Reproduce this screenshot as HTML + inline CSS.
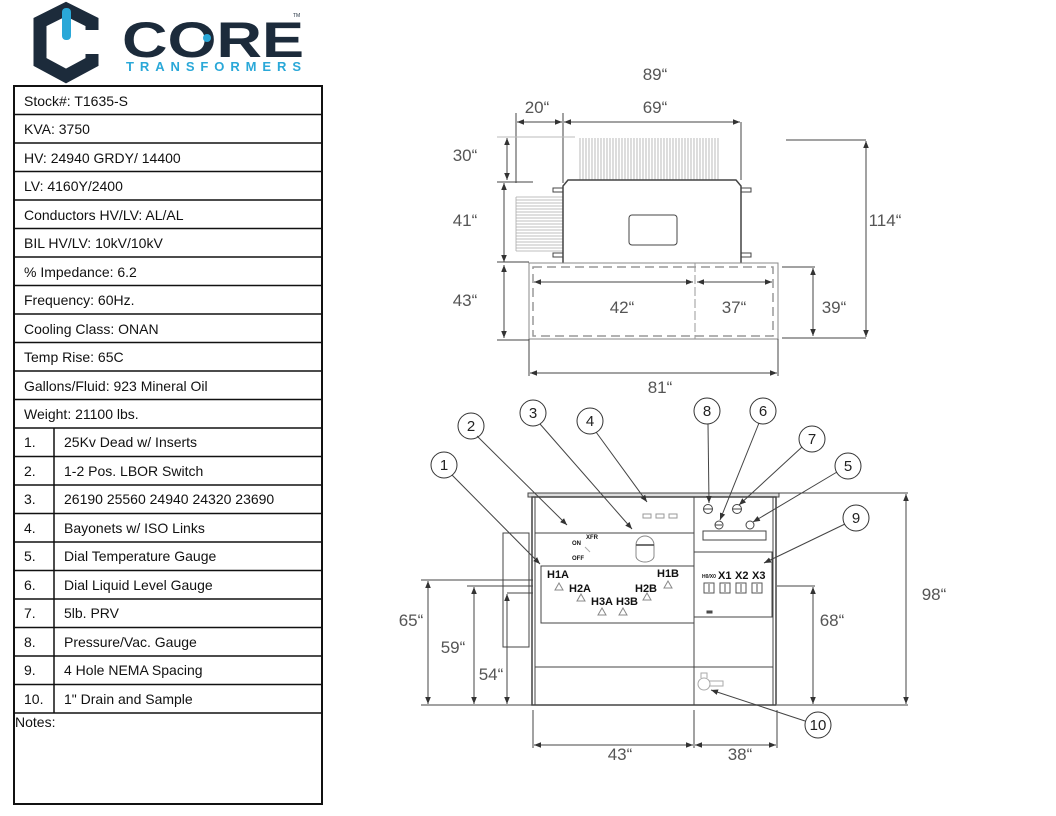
<!DOCTYPE html>
<html><head><meta charset="utf-8"><style>
html,body{margin:0;padding:0;background:#fff;}
svg{display:block;font-family:"Liberation Sans",sans-serif;}
</style></head><body>
<svg width="1056" height="816" viewBox="0 0 1056 816" xmlns="http://www.w3.org/2000/svg">
<defs>
<marker id="a" viewBox="0 0 10 10" refX="10" refY="5" markerWidth="7" markerHeight="7" orient="auto-start-reverse"><path d="M0,1 L10,5 L0,9 z" fill="#333"/></marker>
</defs>
<!-- Logo -->
<g>
<path d="M92,30 L92,22 L66,9 L40,22 L40,62 L66,76 L92,62 L92,54" fill="none" stroke="#1c2b3b" stroke-width="13" stroke-linejoin="miter"/>
<rect x="62" y="8" width="9" height="32" rx="4" fill="#2aa8d8"/>
<text x="122" y="57" font-size="50" font-weight="bold" fill="#1c2b3b" textLength="182" lengthAdjust="spacingAndGlyphs">CORE</text>
<circle cx="207" cy="38" r="4" fill="#2aa8d8"/>
<text x="126" y="71" font-size="13" font-weight="bold" fill="#2aa8d8" textLength="175" lengthAdjust="spacing">TRANSFORMERS</text>
<text x="293" y="17" font-size="5" fill="#1c2b3b">TM</text>
</g>
<!-- Table -->
<g font-size="14" fill="#111" stroke="none">
<rect x="14" y="86" width="308" height="718" fill="none" stroke="#111" stroke-width="2"/>
<g stroke="#111" stroke-width="1.5">
<line x1="14" y1="114.5" x2="322" y2="114.5"/><line x1="14" y1="143" x2="322" y2="143"/><line x1="14" y1="171.5" x2="322" y2="171.5"/><line x1="14" y1="200" x2="322" y2="200"/><line x1="14" y1="228.5" x2="322" y2="228.5"/><line x1="14" y1="257" x2="322" y2="257"/><line x1="14" y1="285.5" x2="322" y2="285.5"/><line x1="14" y1="314" x2="322" y2="314"/><line x1="14" y1="342.5" x2="322" y2="342.5"/><line x1="14" y1="371" x2="322" y2="371"/><line x1="14" y1="399.5" x2="322" y2="399.5"/><line x1="14" y1="428" x2="322" y2="428"/><line x1="14" y1="456.5" x2="322" y2="456.5"/><line x1="14" y1="485" x2="322" y2="485"/><line x1="14" y1="513.5" x2="322" y2="513.5"/><line x1="14" y1="542" x2="322" y2="542"/><line x1="14" y1="570.5" x2="322" y2="570.5"/><line x1="14" y1="599" x2="322" y2="599"/><line x1="14" y1="627.5" x2="322" y2="627.5"/><line x1="14" y1="656" x2="322" y2="656"/><line x1="14" y1="684.5" x2="322" y2="684.5"/><line x1="14" y1="713" x2="322" y2="713"/>
<line x1="54" y1="428" x2="54" y2="713"/>
</g>
<text x="24" y="106">Stock#: T1635-S</text>
<text x="24" y="134">KVA: 3750</text>
<text x="24" y="163">HV: 24940 GRDY/ 14400</text>
<text x="24" y="191">LV: 4160Y/2400</text>
<text x="24" y="220">Conductors HV/LV: AL/AL</text>
<text x="24" y="248">BIL HV/LV: 10kV/10kV</text>
<text x="24" y="277">% Impedance: 6.2</text>
<text x="24" y="305">Frequency: 60Hz.</text>
<text x="24" y="334">Cooling Class: ONAN</text>
<text x="24" y="362">Temp Rise: 65C</text>
<text x="24" y="391">Gallons/Fluid: 923 Mineral Oil</text>
<text x="24" y="419">Weight: 21100 lbs.</text>
<text x="24" y="447">1.</text><text x="64" y="447">25Kv Dead w/ Inserts</text>
<text x="24" y="476">2.</text><text x="64" y="476">1-2 Pos. LBOR Switch</text>
<text x="24" y="504">3.</text><text x="64" y="504">26190 25560 24940 24320 23690</text>
<text x="24" y="533">4.</text><text x="64" y="533">Bayonets w/ ISO Links</text>
<text x="24" y="561">5.</text><text x="64" y="561">Dial Temperature Gauge</text>
<text x="24" y="590">6.</text><text x="64" y="590">Dial Liquid Level Gauge</text>
<text x="24" y="618">7.</text><text x="64" y="618">5lb. PRV</text>
<text x="24" y="647">8.</text><text x="64" y="647">Pressure/Vac. Gauge</text>
<text x="24" y="675">9.</text><text x="64" y="675">4 Hole NEMA Spacing</text>
<text x="24" y="704">10.</text><text x="64" y="704">1" Drain and Sample</text>
<text x="15" y="727">Notes:</text>
</g>
<!-- Top view -->
<g stroke="#444" stroke-width="1" fill="none">
<g stroke="#aaa" stroke-width="0.8">
<path d="M580,138 V180 M583,138 V180 M586,138 V180 M589,138 V180 M592,138 V180 M595,138 V180 M598,138 V180 M601,138 V180 M604,138 V180 M607,138 V180 M610,138 V180 M613,138 V180 M616,138 V180 M619,138 V180 M622,138 V180 M625,138 V180 M628,138 V180 M631,138 V180 M634,138 V180 M637,138 V180 M640,138 V180 M643,138 V180 M646,138 V180 M649,138 V180 M652,138 V180 M655,138 V180 M658,138 V180 M661,138 V180 M664,138 V180 M667,138 V180 M670,138 V180 M673,138 V180 M676,138 V180 M679,138 V180 M682,138 V180 M685,138 V180 M688,138 V180 M691,138 V180 M694,138 V180 M697,138 V180 M700,138 V180 M703,138 V180 M706,138 V180 M709,138 V180 M712,138 V180 M715,138 V180 M718,138 V180"/>
<path d="M516,197 H563 M516,200 H563 M516,203 H563 M516,206 H563 M516,209 H563 M516,212 H563 M516,215 H563 M516,218 H563 M516,221 H563 M516,224 H563 M516,227 H563 M516,230 H563 M516,233 H563 M516,236 H563 M516,239 H563 M516,242 H563 M516,245 H563 M516,248 H563 M516,251 H563"/>
<line x1="516" y1="197" x2="516" y2="251"/>
</g>
<path d="M563,263 V186 L568,180 H736 L741,186 V263" stroke-width="1.5"/>
<rect x="553" y="188" width="10" height="4"/><rect x="741" y="188" width="10" height="4"/>
<rect x="553" y="253" width="10" height="4"/><rect x="741" y="253" width="10" height="4"/>
<rect x="629" y="215" width="48" height="30" rx="3"/>
<rect x="529" y="263" width="249" height="76" stroke="#888"/>
<rect x="533" y="267" width="240" height="69" stroke="#999" stroke-width="1.5" stroke-dasharray="9,5"/>
<line x1="695" y1="263" x2="695" y2="339" stroke="#999" stroke-dasharray="9,3"/>
<line x1="534" y1="282" x2="693" y2="282" marker-start="url(#a)" marker-end="url(#a)"/>
<line x1="697" y1="282" x2="772" y2="282" marker-start="url(#a)" marker-end="url(#a)"/>
<line x1="516" y1="113" x2="516" y2="183"/><line x1="563" y1="113" x2="563" y2="183"/><line x1="741" y1="122" x2="741" y2="180"/>
<line x1="517" y1="122" x2="562" y2="122" marker-start="url(#a)" marker-end="url(#a)"/>
<line x1="564" y1="122" x2="740" y2="122" marker-start="url(#a)" marker-end="url(#a)"/>
<line x1="497" y1="137" x2="575" y2="137" stroke="#bbb"/><line x1="497" y1="182" x2="533" y2="182"/>
<line x1="507" y1="138" x2="507" y2="180" marker-start="url(#a)" marker-end="url(#a)"/>
<line x1="504" y1="183" x2="504" y2="262" marker-start="url(#a)" marker-end="url(#a)"/>
<line x1="497" y1="262" x2="529" y2="262"/><line x1="497" y1="340" x2="529" y2="340"/>
<line x1="504" y1="265" x2="504" y2="338" marker-start="url(#a)" marker-end="url(#a)"/>
<line x1="782" y1="267" x2="815" y2="267"/><line x1="782" y1="338" x2="866" y2="338"/>
<line x1="813" y1="268" x2="813" y2="336" marker-start="url(#a)" marker-end="url(#a)"/>
<line x1="786" y1="140" x2="866" y2="140"/>
<line x1="866" y1="141" x2="866" y2="337" marker-start="url(#a)" marker-end="url(#a)"/>
<line x1="529" y1="339" x2="529" y2="376"/><line x1="778" y1="339" x2="778" y2="376"/>
<line x1="530" y1="373" x2="777" y2="373" marker-start="url(#a)" marker-end="url(#a)"/>
</g>
<g font-size="17" fill="#555" text-anchor="middle">
<text x="655" y="80">89“</text><text x="537" y="113">20“</text><text x="655" y="113">69“</text>
<text x="465" y="161">30“</text><text x="465" y="226">41“</text><text x="465" y="306">43“</text>
<text x="622" y="313">42“</text><text x="734" y="313">37“</text><text x="834" y="313">39“</text>
<text x="885" y="226">114“</text><text x="660" y="393">81“</text>
</g>
<!-- Front view -->
<g stroke="#444" stroke-width="1" fill="none">
<rect x="528" y="493" width="251" height="4" fill="#ddd"/>
<rect x="532" y="497" width="244" height="208" stroke-width="1.5"/>
<line x1="535" y1="497" x2="535" y2="705"/><line x1="773" y1="497" x2="773" y2="705"/>
<line x1="694" y1="497" x2="694" y2="705"/>
<line x1="535" y1="533" x2="694" y2="533"/>
<rect x="541" y="566" width="153" height="57"/>
<line x1="535" y1="667" x2="773" y2="667"/>
<rect x="703" y="531" width="63" height="9"/>
<rect x="694" y="552" width="78" height="65"/>
<circle cx="708" cy="509" r="4.5"/><line x1="704" y1="509" x2="712" y2="509"/>
<circle cx="737" cy="509" r="4.5"/><line x1="733" y1="509" x2="741" y2="509"/>
<circle cx="719" cy="525" r="4"/><line x1="715" y1="525" x2="722" y2="525"/>
<circle cx="750" cy="525" r="4"/>
<g stroke="#999"><rect x="643" y="514" width="8" height="4"/><rect x="656" y="514" width="8" height="4"/><rect x="669" y="514" width="8" height="4"/></g>
<line x1="585" y1="547" x2="590" y2="552" stroke="#aaa"/>
<path d="M636,545 A9,9 0 0 1 654,545 V556 A9,6 0 0 1 636,556 Z" stroke="#888"/><line x1="636" y1="545" x2="654" y2="545" stroke-width="1.5"/>
<g stroke="#888"><path d="M555,590 L559,583 L563,590 Z M577,601 L581,594 L585,601 Z M598,615 L602,608 L606,615 Z M619,615 L623,608 L627,615 Z M643,600 L647,593 L651,600 Z M664,588 L668,581 L672,588 Z"/></g>
<g stroke="#555"><rect x="704" y="583" width="10" height="10"/><rect x="720" y="583" width="10" height="10"/><rect x="736" y="583" width="10" height="10"/><rect x="752" y="583" width="10" height="10"/>
<line x1="709" y1="584" x2="709" y2="592"/><line x1="725" y1="584" x2="725" y2="592"/><line x1="741" y1="584" x2="741" y2="592"/><line x1="757" y1="584" x2="757" y2="592"/></g>
<rect x="707" y="611" width="5" height="2" fill="#555"/>
<circle cx="704" cy="684" r="6" stroke="#aaa"/><path d="M709,681 H723 V686 H709" stroke="#aaa"/><path d="M701,678 V673 H707 V678" stroke="#aaa"/>
<rect x="503" y="533" width="26" height="114"/>
<!-- dims -->
<line x1="421" y1="580" x2="533" y2="580"/><line x1="428" y1="581" x2="428" y2="704" marker-start="url(#a)" marker-end="url(#a)"/>
<line x1="467" y1="586" x2="533" y2="586"/><line x1="474" y1="587" x2="474" y2="704" marker-start="url(#a)" marker-end="url(#a)"/>
<line x1="507" y1="593" x2="533" y2="593"/><line x1="507" y1="594" x2="507" y2="704" marker-start="url(#a)" marker-end="url(#a)"/>
<line x1="421" y1="705" x2="532" y2="705"/>
<line x1="777" y1="586" x2="815" y2="586"/><line x1="813" y1="587" x2="813" y2="704" marker-start="url(#a)" marker-end="url(#a)"/>
<line x1="779" y1="493" x2="908" y2="493"/><line x1="777" y1="705" x2="908" y2="705"/>
<line x1="906" y1="494" x2="906" y2="704" marker-start="url(#a)" marker-end="url(#a)"/>
<line x1="533" y1="710" x2="533" y2="748"/><line x1="694" y1="710" x2="694" y2="748"/><line x1="777" y1="710" x2="777" y2="748"/>
<line x1="534" y1="745" x2="693" y2="745" marker-start="url(#a)" marker-end="url(#a)"/>
<line x1="695" y1="745" x2="776" y2="745" marker-start="url(#a)" marker-end="url(#a)"/>
<!-- leaders -->
<line x1="452" y1="475" x2="540" y2="564" marker-end="url(#a)"/>
<line x1="477" y1="436" x2="567" y2="525" marker-end="url(#a)"/>
<line x1="540" y1="424" x2="632" y2="529" marker-end="url(#a)"/>
<line x1="596" y1="432" x2="647" y2="502" marker-end="url(#a)"/>
<line x1="708" y1="424" x2="709" y2="503" marker-end="url(#a)"/>
<line x1="759" y1="423" x2="720" y2="520" marker-end="url(#a)"/>
<line x1="802" y1="447" x2="739" y2="505" marker-end="url(#a)"/>
<line x1="837" y1="472" x2="753" y2="522" marker-end="url(#a)"/>
<line x1="845" y1="524" x2="764" y2="563" marker-end="url(#a)"/>
<line x1="805" y1="721" x2="711" y2="690" marker-end="url(#a)"/>
<g stroke="#333"><circle cx="444" cy="465" r="13"/><circle cx="471" cy="426" r="13"/><circle cx="533" cy="413" r="13"/><circle cx="590" cy="421" r="13"/><circle cx="707" cy="411" r="13"/><circle cx="763" cy="411" r="13"/><circle cx="812" cy="439" r="13"/><circle cx="848" cy="466" r="13"/><circle cx="856" cy="518" r="13"/><circle cx="818" cy="725" r="13"/></g>
</g>
<g font-size="15" fill="#222" text-anchor="middle">
<text x="444" y="470">1</text><text x="471" y="431">2</text><text x="533" y="418">3</text><text x="590" y="426">4</text><text x="707" y="416">8</text><text x="763" y="416">6</text><text x="812" y="444">7</text><text x="848" y="471">5</text><text x="856" y="523">9</text><text x="818" y="730">10</text>
</g>
<g font-size="11" font-weight="bold" fill="#111">
<text x="547" y="578">H1A</text><text x="569" y="592">H2A</text><text x="591" y="605">H3A</text><text x="616" y="605">H3B</text><text x="635" y="592">H2B</text><text x="657" y="577">H1B</text>
<text x="718" y="579">X1</text><text x="735" y="579">X2</text><text x="752" y="579">X3</text>
<text x="702" y="578" font-size="5">H0/X0</text>
<text x="572" y="545" font-size="6">ON</text><text x="586" y="539" font-size="6">XFR</text><text x="572" y="560" font-size="6">OFF</text>
</g>
<g font-size="17" fill="#555" text-anchor="middle">
<text x="411" y="626">65“</text><text x="453" y="653">59“</text><text x="491" y="680">54“</text>
<text x="832" y="626">68“</text><text x="934" y="600">98“</text>
<text x="620" y="760">43“</text><text x="740" y="760">38“</text>
</g>
</svg>
</body></html>
